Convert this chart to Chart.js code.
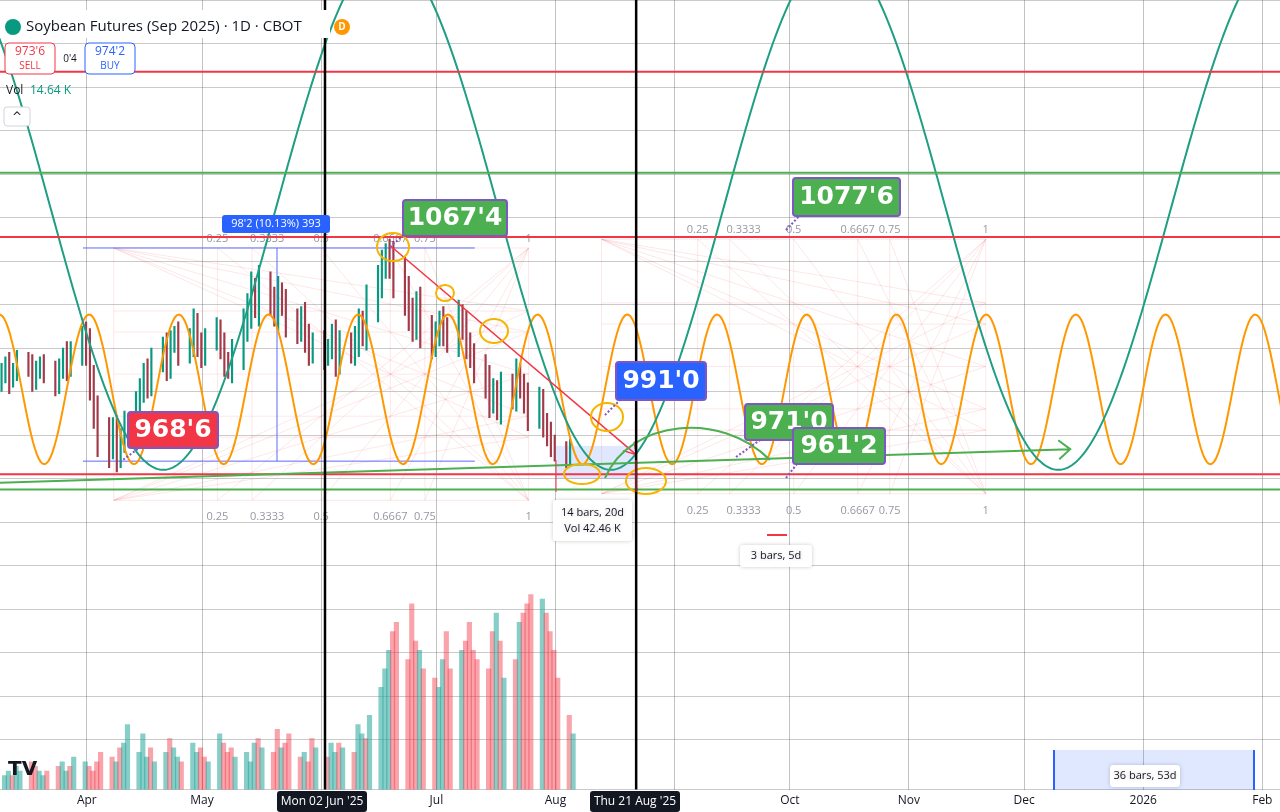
<!DOCTYPE html>
<html>
<head>
<meta charset="utf-8">
<script src="https://cdn.jsdelivr.net/npm/chart.js@4"></script>
<style>
  body { margin: 0; background: #fff; }
  #wrap { width: 1280px; height: 812px; }
</style>
</head>
<body>
<div id="wrap"><canvas id="c" width="1280" height="812"></canvas></div>
<script>
// daily closes from Mon 10 Mar 2025 to Tue 05 Aug 2025
const closes = [
  1008,1012,1005,1010,1014, 1011,1006,1009,1013,1008, 1004,1010,1016,1012,1018,
  1024,1020,1005,990,978, 975,982,970,978,985, 992,1000,1008,1004,1014,
  1020,1012,1022,1026,1018, 1024,1030,1022,1016,1025, 1028,1020,1014,1010,1018,
  1030,1038,1046,1040,1048, 1042,1036,1045,1040,1032, 1028,1034,1025,1018,1022,
  1016,1020,1026,1014,1022, 1018,1024,1030,1028,1040, 1050,1058,1062,1060,1052,
  1045,1036,1030,1040,1028, 1022,1026,1032,1028,1024, 1034,1030,1022,1016,1010,
  1004,996,1000,992,1002, 998,1008,1002,996,990, 995,985,980,976,972, 970,974
];
const wicks = [
  5,4,6,3,5, 4,6,5,3,4, 6,5,4,7,5, 6,8,9,7,8, 10,6,7,5,6, 8,6,5,7,6,
  5,7,6,4,6, 5,8,6,5,4, 6,5,7,4,6, 8,7,9,6,10, 7,6,8,5,7, 6,5,7,6,5,
  6,4,5,7,6, 5,6,8,7,9, 8,7,6,8,9, 10,8,7,6,8, 7,6,5,7,6, 8,6,7,5,6,
  7,8,6,5,7, 6,7,5,6,8, 7,6,5,6,4, 5,4
];
const volumes = [
  3,4,3,5,4,6,5,4, 3,4,5,6,4,5,7,6,5,4,6,8,7,6,9,
  10,14,8,12,7,9,6,8,11,9,7,6,10,8,9,7,6,12,10,8,
  9,7,8,6,10,11,9,8,13,9,10,12,7,8,6,11,9,7,10,8,
  10,9,8,14,12,11,16,22,26,30,34,36,28,40,32,30,26,24,22,28,
  34,26,30,32,36,30,28,26,34,38,32,24,28,36,38,40,42,41,38,34,30,24,
  16,12
];
const monthTicks = [0,30,61,91,122,153,183,214,244,275,306];
const monthLabels = ['Apr','May','','Jul','Aug','','Oct','Nov','Dec','2026','Feb'];
const redLevels = [1147,1071,962];
const greenLevels = [1100.6,955];

// trading day offsets from 1 Apr 2025
const start = new Date(Date.UTC(2025,2,10));
const apr1 = Date.UTC(2025,3,1);
const days = [];
let d = new Date(start);
while (days.length < closes.length) {
  const wd = d.getUTCDay();
  if (wd !== 0 && wd !== 6) days.push((d - apr1) / 86400000);
  d = new Date(d.getTime() + 86400000);
}
const opens = closes.map((c, i) => i ? closes[i-1] : c - 3);
const candles = closes.map((c, i) => ({ x: days[i], y: [Math.min(opens[i], c) - wicks[i], Math.max(opens[i], c) + wicks[i]] }));
const candleColors = closes.map((c, i) => c >= opens[i] ? '#089981' : '#a33a4a');
const volBars = volumes.map((v, i) => ({ x: days[i], y: v }));
const volColors = closes.map((c, i) => c >= opens[i] ? 'rgba(38,166,154,0.55)' : 'rgba(242,54,69,0.45)');

// cycle tools
const orange = [], teal = [];
for (let t = -23; t <= 312; t += 0.5) {
  orange.push({ x: t, y: 1001 + 34.4 * Math.cos(2 * Math.PI * (t - 234.1) / 23.35) });
  teal.push({ x: t, y: 1083 - 119 * Math.cos(2 * Math.PI * (t - 252.9) / 116.5) });
}

function box(ctx, x, y, w, h, fill, text, font, color, stroke) {
  ctx.fillStyle = fill;
  ctx.beginPath(); ctx.roundRect(x, y, w, h, 3); ctx.fill();
  if (stroke) { ctx.strokeStyle = stroke; ctx.lineWidth = 2; ctx.stroke(); }
  ctx.fillStyle = color; ctx.font = font; ctx.textAlign = 'center'; ctx.textBaseline = 'middle';
  text.split('\n').forEach((t, i, a) => ctx.fillText(t, x + w / 2, y + h / 2 + (i - (a.length - 1) / 2) * 16));
}

const overlay = {
  id: 'overlay',
  beforeDatasetsDraw(chart) {
    const { ctx, scales: { x, y } } = chart;
    ctx.save();
    // gann boxes
    [[7,115,1066,950],[134,234,1070,953]].forEach(([a,b,p1,p2]) => {
      const l = x.getPixelForValue(a), r = x.getPixelForValue(b);
      const t = y.getPixelForValue(p1), bt = y.getPixelForValue(p2);
      ctx.strokeStyle = 'rgba(242,54,69,0.12)'; ctx.lineWidth = 1;
      ctx.strokeRect(l, t, r - l, bt - t);
      [0.25,0.3333,0.5,0.6667,0.75].forEach(f => {
        ctx.beginPath(); ctx.moveTo(l + (r-l)*f, t); ctx.lineTo(l + (r-l)*f, bt); ctx.stroke();
        ctx.beginPath(); ctx.moveTo(l, t + (bt-t)*f); ctx.lineTo(r, t + (bt-t)*f); ctx.stroke();
        ctx.beginPath(); ctx.moveTo(l, bt); ctx.lineTo(r, t + (bt-t)*f); ctx.stroke();
        ctx.beginPath(); ctx.moveTo(l, t); ctx.lineTo(r, bt - (bt-t)*f); ctx.stroke();
        ctx.beginPath(); ctx.moveTo(r, bt); ctx.lineTo(l + (r-l)*f, t); ctx.stroke();
        ctx.beginPath(); ctx.moveTo(r, t); ctx.lineTo(l + (r-l)*f, bt); ctx.stroke();
      });
      ctx.fillStyle = '#9598a1'; ctx.font = '11px "Open Sans"'; ctx.textAlign = 'center';
      [['0.25',0.25],['0.3333',0.37],['0.5',0.5],['0.6667',0.6667],['0.75',0.75],['1',1]].forEach(([s,f]) => {
        ctx.fillText(s, l + (r-l)*f, bt + 20);
        ctx.fillText(s, l + (r-l)*f, t - 6);
      });
    });
    // time range highlights
    ctx.fillStyle = 'rgba(41,98,255,0.15)';
    ctx.fillRect(x.getPixelForValue(122), y.getPixelForValue(975), x.getPixelForValue(143) - x.getPixelForValue(122), 33);
    ctx.fillRect(1053, 750, 202, 40);
    ctx.strokeStyle = '#2962ff'; ctx.lineWidth = 2;
    ctx.beginPath(); ctx.moveTo(1054, 750); ctx.lineTo(1054, 790); ctx.moveTo(1254, 750); ctx.lineTo(1254, 790); ctx.stroke();
    // price range
    ctx.strokeStyle = '#5b6bff'; ctx.lineWidth = 1;
    const pl = x.getPixelForValue(-1), pr = x.getPixelForValue(101);
    ctx.beginPath();
    ctx.moveTo(pl, y.getPixelForValue(1066)); ctx.lineTo(pr, y.getPixelForValue(1066));
    ctx.moveTo(pl, y.getPixelForValue(968)); ctx.lineTo(pr, y.getPixelForValue(968));
    ctx.moveTo(277, y.getPixelForValue(968)); ctx.lineTo(277, y.getPixelForValue(1066));
    ctx.stroke();
    ctx.restore();
  },
  afterDatasetsDraw(chart) {
    const { ctx, chartArea: ca, scales: { x, y } } = chart;
    ctx.save();
    // horizontal levels
    ctx.lineWidth = 2;
    redLevels.forEach(p => { ctx.strokeStyle = '#f23645'; ctx.beginPath(); ctx.moveTo(ca.left, y.getPixelForValue(p)); ctx.lineTo(ca.right, y.getPixelForValue(p)); ctx.stroke(); });
    greenLevels.forEach(p => { ctx.strokeStyle = '#4caf50'; ctx.beginPath(); ctx.moveTo(ca.left, y.getPixelForValue(p)); ctx.lineTo(ca.right, y.getPixelForValue(p)); ctx.stroke(); });
    // trend line with arrow
    const gx1 = x.getPixelForValue(-23), gy1 = y.getPixelForValue(958);
    const gx2 = x.getPixelForValue(256), gy2 = y.getPixelForValue(973.5);
    ctx.strokeStyle = '#4caf50';
    ctx.beginPath(); ctx.moveTo(gx1, gy1); ctx.lineTo(gx2, gy2);
    ctx.moveTo(gx2 - 12, gy2 - 9); ctx.lineTo(gx2, gy2); ctx.lineTo(gx2 - 11, gy2 + 10); ctx.stroke();
    const rx1 = x.getPixelForValue(79), ry1 = y.getPixelForValue(1067);
    const rx2 = x.getPixelForValue(143), ry2 = y.getPixelForValue(971);
    ctx.strokeStyle = '#f23645'; ctx.lineWidth = 1.5;
    ctx.beginPath(); ctx.moveTo(rx1, ry1); ctx.lineTo(rx2, ry2);
    ctx.moveTo(rx2 - 2, ry2 - 13); ctx.lineTo(rx2, ry2); ctx.lineTo(rx2 - 13, ry2 - 4); ctx.stroke();
    // small green arc
    ctx.strokeStyle = '#4caf50'; ctx.lineWidth = 2;
    ctx.beginPath(); ctx.moveTo(605, 478); ctx.bezierCurveTo(630, 420, 720, 410, 770, 460); ctx.stroke();
    // orange ellipses
    ctx.strokeStyle = '#f5b400'; ctx.lineWidth = 2;
    [[393,247,16,14],[445,293,9,8],[494,331,14,12],[607,417,16,14],[582,474,18,10],[646,481,20,13]].forEach(([cx,cy,rx,ry]) => {
      ctx.beginPath(); ctx.ellipse(cx, cy, rx, ry, 0, 0, Math.PI * 2); ctx.stroke();
    });
    // vertical markers
    ctx.strokeStyle = '#000'; ctx.lineWidth = 2.5;
    [62, 143].forEach(v => { const px = x.getPixelForValue(v); ctx.beginPath(); ctx.moveTo(px, 0); ctx.lineTo(px, ca.bottom); ctx.stroke(); });
    // callout pointers
    ctx.strokeStyle = '#7e57c2'; ctx.lineWidth = 2; ctx.setLineDash([2, 2]);
    [[120,462,150,440],[390,247,415,225],[605,415,625,395],[736,457,760,440],[786,478,800,460],[786,230,805,210]].forEach(([a,b,c,e]) => {
      ctx.beginPath(); ctx.moveTo(a, b); ctx.lineTo(c, e); ctx.stroke();
    });
    ctx.setLineDash([]);
    // price labels
    box(ctx, 128, 412, 90, 36, '#f23645', "968'6", 'bold 25px "DejaVu Sans"', '#fff', '#7e57c2');
    box(ctx, 403, 200, 104, 36, '#4caf50', "1067'4", 'bold 25px "DejaVu Sans"', '#fff', '#7e57c2');
    box(ctx, 616, 362, 90, 38, '#2962ff', "991'0", 'bold 25px "DejaVu Sans"', '#fff', '#7e57c2');
    box(ctx, 745, 404, 88, 36, '#4caf50', "971'0", 'bold 25px "DejaVu Sans"', '#fff', '#7e57c2');
    box(ctx, 793, 428, 92, 36, '#4caf50', "961'2", 'bold 25px "DejaVu Sans"', '#fff', '#7e57c2');
    box(ctx, 793, 178, 107, 38, '#4caf50', "1077'6", 'bold 25px "DejaVu Sans"', '#fff', '#7e57c2');
    box(ctx, 222, 215, 108, 18, '#2962ff', "98'2 (10.13%) 393", '11px "Open Sans"', '#fff');
    // measurement tooltips
    ctx.shadowColor = 'rgba(0,0,0,0.2)'; ctx.shadowBlur = 4;
    box(ctx, 553, 500, 79, 41, '#fff', '14 bars, 20d\nVol 42.46 K', '11px "Open Sans"', '#131722');
    box(ctx, 740, 545, 72, 22, '#fff', '3 bars, 5d', '11px "Open Sans"', '#131722');
    box(ctx, 1110, 765, 70, 22, '#fff', '36 bars, 53d', '11px "Open Sans"', '#131722');
    ctx.shadowBlur = 0;
    ctx.strokeStyle = '#f23645'; ctx.beginPath(); ctx.moveTo(767, 535); ctx.lineTo(787, 535); ctx.stroke();
    ctx.strokeStyle = '#f23645'; ctx.lineWidth = 1;
    ctx.beginPath(); ctx.moveTo(556, 460); ctx.lineTo(556, 492); ctx.moveTo(636, 460); ctx.lineTo(636, 492); ctx.stroke();
    // header
    ctx.fillStyle = '#fff'; ctx.fillRect(0, 10, 330, 28);
    ctx.fillStyle = '#089981'; ctx.beginPath(); ctx.arc(13, 27, 8, 0, Math.PI * 2); ctx.fill();
    ctx.fillStyle = '#131722'; ctx.font = '15px "Open Sans"'; ctx.textAlign = 'left'; ctx.textBaseline = 'middle';
    ctx.fillText('Soybean Futures (Sep 2025) · 1D · CBOT', 26, 27);
    ctx.fillStyle = '#ff9800'; ctx.beginPath(); ctx.arc(342, 27, 8, 0, Math.PI * 2); ctx.fill();
    ctx.fillStyle = '#fff'; ctx.font = 'bold 10px "Open Sans"'; ctx.textAlign = 'center'; ctx.fillText('D', 342, 27);
    ctx.lineWidth = 1;
    ctx.fillStyle = '#fff'; ctx.strokeStyle = '#f23645'; ctx.beginPath(); ctx.roundRect(5, 43, 50, 31, 4); ctx.fill(); ctx.stroke();
    ctx.strokeStyle = '#2962ff'; ctx.beginPath(); ctx.roundRect(85, 43, 50, 31, 4); ctx.fill(); ctx.stroke();
    ctx.font = '12px "Open Sans"'; ctx.fillStyle = '#f23645'; ctx.fillText("973'6", 30, 52); ctx.font = '10px "Open Sans"'; ctx.fillText('SELL', 30, 66);
    ctx.font = '12px "Open Sans"'; ctx.fillStyle = '#2962ff'; ctx.fillText("974'2", 110, 52); ctx.font = '10px "Open Sans"'; ctx.fillText('BUY', 110, 66);
    ctx.fillStyle = '#131722'; ctx.font = '10px "Open Sans"'; ctx.fillText("0'4", 70, 59);
    ctx.textAlign = 'left'; ctx.font = '12px "Open Sans"'; ctx.fillText('Vol', 6, 91);
    ctx.fillStyle = '#089981'; ctx.fillText('14.64 K', 30, 91);
    ctx.strokeStyle = '#d1d4dc'; ctx.fillStyle = '#fff'; ctx.beginPath(); ctx.roundRect(4, 107, 26, 19, 3); ctx.fill(); ctx.stroke();
    ctx.fillStyle = '#131722'; ctx.font = '12px "DejaVu Sans"'; ctx.textAlign = 'center'; ctx.fillText('^', 17, 118);
    // bottom date markers
    box(ctx, 277, 791, 90, 21, '#131722', "Mon 02 Jun '25", '12px "Open Sans"', '#fff');
    box(ctx, 590, 791, 90, 21, '#131722', "Thu 21 Aug '25", '12px "Open Sans"', '#fff');
    ctx.fillStyle = '#131722'; ctx.font = 'bold 20px "DejaVu Sans"'; ctx.textAlign = 'left'; ctx.fillText('TV', 8, 770);
    ctx.restore();
  }
};

new Chart(document.getElementById('c'), {
  data: {
    datasets: [
      { type: 'bar', data: volBars, yAxisID: 'v', backgroundColor: volColors, barThickness: 4.5, order: 5 },
      { type: 'bar', data: candles, yAxisID: 'y', backgroundColor: candleColors, barThickness: 1.5, order: 4 },
      { type: 'line', data: orange, yAxisID: 'y', borderColor: '#ff9800', borderWidth: 2, pointRadius: 0, order: 3 },
      { type: 'line', data: teal, yAxisID: 'y', borderColor: '#1e9e83', borderWidth: 2, pointRadius: 0, order: 2 }
    ]
  },
  options: {
    responsive: false,
    devicePixelRatio: 1,
    animation: false,
    layout: { padding: 0 },
    plugins: { legend: { display: false }, tooltip: { enabled: false } },
    scales: {
      x: {
        type: 'linear', min: -22.6, max: 310.6, offset: false,
        afterBuildTicks: s => { s.ticks = monthTicks.map(v => ({ value: v })); },
        ticks: { callback: (v) => monthLabels[monthTicks.indexOf(v)], color: '#131722', font: { size: 12, family: 'Open Sans' }, maxRotation: 0, autoSkip: false, padding: 4 },
        grid: { color: 'rgba(80,80,80,0.35)', drawTicks: false, offset: false },
        border: { display: false }
      },
      y: {
        display: true, position: 'right', min: 817, max: 1180,
        ticks: { display: false, stepSize: 20 },
        grid: { color: 'rgba(80,80,80,0.3)', drawTicks: false },
        border: { display: false }
      },
      v: { display: false, min: 0, max: 170 }
    }
  },
  plugins: [overlay]
});
</script>
</body>
</html>
